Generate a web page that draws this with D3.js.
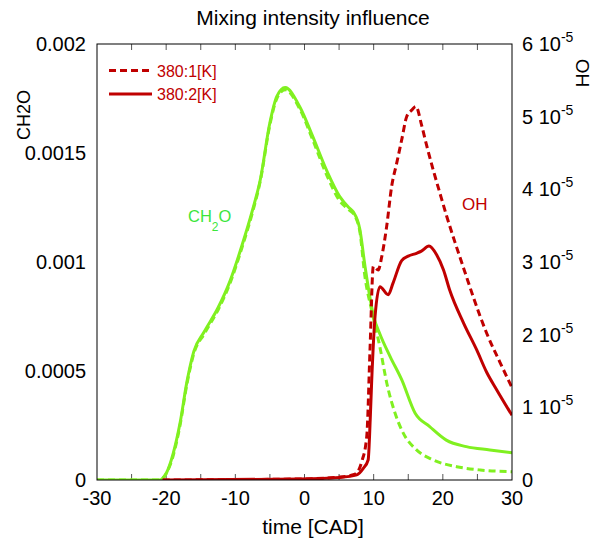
<!DOCTYPE html>
<html><head><meta charset="utf-8">
<script src="https://cdn.jsdelivr.net/npm/d3@7"></script>
<style>body{margin:0;background:#fff}svg{display:block;font-family:"Liberation Sans",Arial,sans-serif}</style>
</head><body>
<script>
// CH2O, 380:2[K] (solid)
const ch2oTime2 = [-30,-21,-20,-19,-18,-17,-16,-14.5,-12.5,-10.8,-9,-7.5,-6.4,-5,-4,-2.8,-0.65,1.2,3.2,5.1,6.4,7.05,8,8.75,10,10.9,12.4,14.05,16,18.1,20.5,23.4,26.8,30];
const ch2oVal2  = [0,0,0.00003,0.00012,0.00026,0.00045,0.00059,0.00068,0.00079,0.00091,0.00108,0.00124,0.001376,0.00164,0.00176,0.0018,0.00171,0.001575,0.00142,0.0013,0.00125,0.00123,0.00115,0.00098,0.00075,0.00067,0.000565,0.00046,0.000306,0.000245,0.000183,0.000153,0.000138,0.000125];
// CH2O, 380:1[K] (dashed)
const ch2oTime1 = [-30,-21,-20,-19,-18,-17,-16,-14.5,-12.5,-10.8,-9,-7.5,-6.4,-5,-4,-2.8,-0.65,1.2,3.2,5.1,6.4,7.3,8,8.75,9.7,10.9,11.9,13.1,14.3,16.2,18.6,22,25.4,30];
const ch2oVal1  = [0,0,0.00003,0.00011,0.00025,0.00044,0.00058,0.00067,0.00078,0.0009,0.00107,0.00123,0.00137,0.00163,0.00175,0.00179,0.0017,0.00156,0.0014,0.00128,0.00124,0.00121,0.00114,0.00093,0.00078,0.00061,0.000444,0.000306,0.000214,0.000138,0.000092,0.000061,0.000046,0.000038];
// OH, 380:2[K] (solid)
const ohTime2 = [-20.5,-0.65,5.1,7.55,8.5,9.2,9.5,9.7,10.2,10.9,12.1,12.8,14.05,15.0,16.2,16.9,18.0,19.1,20.1,21.0,23.0,24.9,26.3,27.8,30];
const ohVal2  = [0,0.014e-5,0.035e-5,0.07e-5,0.16e-5,0.275e-5,0.83e-5,1.33e-5,2.25e-5,2.66e-5,2.55e-5,2.71e-5,3.02e-5,3.08e-5,3.12e-5,3.15e-5,3.22e-5,3.10e-5,2.89e-5,2.61e-5,2.16e-5,1.79e-5,1.49e-5,1.24e-5,0.89e-5];
// OH, 380:1[K] (dashed)
const ohTime1 = [-20.5,-0.65,5.1,7.3,8.27,9.0,9.47,9.95,10.67,11.16,11.88,12.6,13.33,14.05,14.77,15.5,16.1,16.94,17.67,18.6,19.6,20.56,21.76,23.2,24.4,26.34,28.26,30];
const ohVal1  = [0,0.014e-5,0.04e-5,0.08e-5,0.25e-5,0.6e-5,1.79e-5,2.94e-5,2.89e-5,3.07e-5,3.49e-5,4.04e-5,4.36e-5,4.68e-5,5.0e-5,5.09e-5,5.14e-5,4.88e-5,4.6e-5,4.27e-5,3.94e-5,3.63e-5,3.27e-5,2.86e-5,2.52e-5,2.02e-5,1.62e-5,1.27e-5];

const xTicks = [-30,-20,-10,0,10,20,30];
const xMinor = [-25,-20,-15,-10,-5,0,5,10,15,20,25];
const leftTicks = [0,0.0005,0.001,0.0015,0.002];
const leftTickLabels = ["0","0.0005","0.001","0.0015","0.002"];
const rightTicks = [0,1e-5,2e-5,3e-5,4e-5,5e-5,6e-5];
const rightTickMant = ["0","1","2","3","4","5","6"];
const legendLabels = ["380:1[K]","380:2[K]"];

const W=595,H=546;
const m={l:97,r:512,t:44,b:480};
const green="#80F020", red="#C00000";

const svg=d3.select("body").append("svg").attr("width",W).attr("height",H);
const x=d3.scaleLinear().domain([-30,30]).range([m.l,m.r]);
const yL=d3.scaleLinear().domain([0,0.002]).range([m.b,m.t]);
const yR=d3.scaleLinear().domain([0,6e-5]).range([m.b,m.t]);

svg.append("defs").append("clipPath").attr("id","clip").append("rect")
  .attr("x",m.l).attr("y",m.t-2).attr("width",m.r-m.l).attr("height",m.b-m.t+2);

// ticks (inside, top and bottom)
const tg=svg.append("g").attr("stroke","#555").attr("stroke-width",1);
xMinor.forEach(v=>{
  tg.append("line").attr("x1",x(v)).attr("x2",x(v)).attr("y1",m.b).attr("y2",m.b-6);
  tg.append("line").attr("x1",x(v)).attr("x2",x(v)).attr("y1",m.t).attr("y2",m.t+6);
});

const plot=svg.append("g").attr("clip-path","url(#clip)");
function draw(tArr,vArr,ys,color,dashed){
  const pts=tArr.map((t,i)=>[t,vArr[i]]);
  const line=d3.line().x(d=>x(d[0])).y(d=>ys(d[1])).curve(d3.curveMonotoneX);
  plot.append("path").attr("d",line(pts)).attr("fill","none").attr("stroke",color)
    .attr("stroke-width",3).attr("stroke-dasharray",dashed?"7,4":null).attr("stroke-linejoin","round");
}
draw(ch2oTime1,ch2oVal1,yL,green,true);
draw(ch2oTime2,ch2oVal2,yL,green,false);
draw(ohTime1,ohVal1,yR,red,true);
draw(ohTime2,ohVal2,yR,red,false);

// frame
svg.append("rect").attr("x",m.l).attr("y",m.t).attr("width",m.r-m.l).attr("height",m.b-m.t)
  .attr("fill","none").attr("stroke","#000").attr("stroke-width",1);

// x tick labels
svg.append("g").selectAll("text").data(xTicks).join("text")
  .attr("x",d=>x(d)).attr("y",505).attr("text-anchor","middle").attr("font-size",20).text(d=>d);
// left tick labels
svg.append("g").selectAll("text").data(leftTicks).join("text")
  .attr("x",86).attr("y",d=>yL(d)+7).attr("text-anchor","end").attr("font-size",20)
  .text((d,i)=>leftTickLabels[i]);
// right tick labels
const rg=svg.append("g");
rightTicks.forEach((d,i)=>{
  const t=rg.append("text").attr("x",522).attr("y",yR(d)+7).attr("font-size",20);
  if(d===0){t.text("0");return;}
  t.append("tspan").text(rightTickMant[i]+" 10");
  t.append("tspan").attr("dy",-9).attr("font-size",14).text("-5");
});

// titles
svg.append("text").attr("x",313).attr("y",25).attr("text-anchor","middle").attr("font-size",21).text("Mixing intensity influence");
svg.append("text").attr("x",313).attr("y",534).attr("text-anchor","middle").attr("font-size",21).text("time [CAD]");
svg.append("text").attr("transform","translate(30,115) rotate(-90)").attr("text-anchor","middle").attr("font-size",18).text("CH2O");
svg.append("text").attr("transform","translate(576,73) rotate(90)").attr("text-anchor","middle").attr("font-size",19).text("OH");

// in-plot labels
const cl=svg.append("text").attr("x",188).attr("y",222).attr("font-size",16.5).attr("fill","#3CE63C");
cl.append("tspan").text("CH");
cl.append("tspan").attr("dy",9).attr("font-size",12).text("2");
cl.append("tspan").attr("dy",-9).text("O");
svg.append("text").attr("x",462).attr("y",210).attr("font-size",17).attr("fill",red).text("OH");

// legend
legendLabels.forEach((lab,i)=>{
  const yy=70.5+i*23.5;
  svg.append("line").attr("x1",109).attr("x2",152).attr("y1",yy).attr("y2",yy)
    .attr("stroke",red).attr("stroke-width",3).attr("stroke-dasharray",i===0?"7,4":null);
  svg.append("text").attr("x",157).attr("y",yy+6).attr("font-size",16).attr("fill",red).text(lab);
});
</script>
</body></html>
